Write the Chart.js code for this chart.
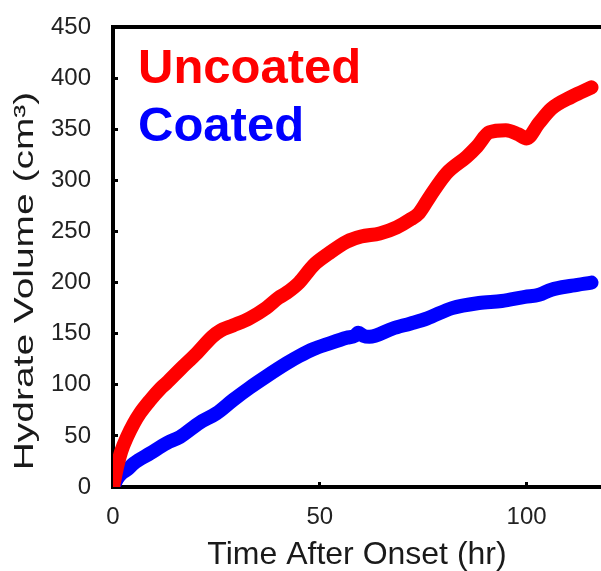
<!DOCTYPE html>
<html>
<head>
<meta charset="utf-8">
<script src="https://cdn.jsdelivr.net/npm/chart.js@4/dist/chart.umd.min.js"></script>
<style>
  html, body { margin: 0; padding: 0; background: #fff; }
  #wrap { width: 601px; height: 571px; }
</style>
</head>
<body>
<div id="wrap"><canvas id="hydrateChart"></canvas></div>
<script>
// Values (time in hr, volume in cm3)
const uncoatedTime = [0, 0.5, 1, 2, 3.4, 5, 6.5, 9, 11.4, 13, 16.2, 20.3, 24, 26, 29, 33, 37, 40, 42, 45, 48.5, 52, 56.5, 60, 64.5, 68.6, 72, 74, 76.6, 80.7, 85.5, 88, 91, 95, 98, 100, 103, 106, 111, 115.7];
const uncoatedVolume = [0, 10, 20, 35, 49, 62, 72, 85, 96, 102, 115, 131, 147, 153, 158, 165, 175, 185, 190, 200, 217, 228, 240, 245, 248, 254, 262, 268, 284, 307, 323, 333, 347, 349, 345, 341, 356, 370, 382, 391];

const coatedTime = [0, 0.5, 1, 2, 3.4, 5, 9, 13, 16.2, 21, 25, 29, 33, 37, 42, 45, 48.5, 52, 56.5, 58.5, 59.3, 60.5, 62, 67.6, 72, 76, 82, 88.5, 94, 99.6, 103, 106, 111, 115.7];
const coatedVolume = [0, 4, 8, 13, 17, 23, 33, 43, 49, 63, 72, 85, 97, 108, 121, 128, 135, 140, 146, 148, 151, 148, 147, 155, 160, 165, 175, 180, 182, 186, 188, 193, 197, 200];

const xTickValues = [0, 50, 100];
const yTickValues = [0, 50, 100, 150, 200, 250, 300, 350, 400, 450];

const FONT = "'Liberation Sans', Arial, sans-serif";

// turn two arrays into {x, y} points
function toPoints(xs, ys) {
    return xs.map((x, i) => ({ x: x, y: ys[i] }));
}

// top border of the plot box, the stretched y title and the coloured labels
const decorations = {
    id: "decorations",
    afterDraw(chart) {
        const ctx = chart.ctx;
        const area = chart.chartArea;
        ctx.save();
        ctx.strokeStyle = "#000";
        ctx.lineWidth = 4;
        ctx.beginPath();
        ctx.moveTo(area.left - 2, area.top);
        ctx.lineTo(area.right, area.top);
        ctx.stroke();

        // y title (the original is stretched along its length)
        ctx.save();
        ctx.translate(33, (area.top + area.bottom) / 2 + 24);
        ctx.rotate(-Math.PI / 2);
        ctx.scale(1.39, 1);
        ctx.fillStyle = "#1a1a1a";
        ctx.font = "28px " + FONT;
        ctx.textAlign = "center";
        ctx.textBaseline = "alphabetic";
        ctx.fillText("Hydrate Volume (cm³)", 0, 0);
        ctx.restore();

        // dataset names in their own colours
        ctx.font = "bold 49px " + FONT;
        ctx.textAlign = "left";
        ctx.textBaseline = "alphabetic";
        chart.data.datasets.forEach((ds, i) => {
            ctx.fillStyle = ds.borderColor;
            ctx.fillText(ds.label, area.left + 25, area.top + 56 + i * 58);
        });
        ctx.restore();
    },
};

function initializeGraph() {
    const ctx = document.getElementById("hydrateChart").getContext("2d");
    return new Chart(ctx, {
        type: "line",
        data: {
            datasets: [
                {
                    label: "Uncoated",
                    data: toPoints(uncoatedTime, uncoatedVolume),
                    borderColor: "#ff0000",
                    borderWidth: 14,
                    borderCapStyle: "round",
                    borderJoinStyle: "round",
                    cubicInterpolationMode: "monotone",
                    pointRadius: 0,
                    fill: false,
                },
                {
                    label: "Coated",
                    data: toPoints(coatedTime, coatedVolume),
                    borderColor: "#0000ff",
                    borderWidth: 14,
                    borderCapStyle: "round",
                    borderJoinStyle: "round",
                    cubicInterpolationMode: "monotone",
                    pointRadius: 0,
                    fill: false,
                },
            ],
        },
        options: {
            responsive: true,
            maintainAspectRatio: false,
            animation: false,
            layout: { padding: { top: 27, right: 0, left: 0, bottom: 0 } },
            plugins: {
                legend: { display: false },
                tooltip: { enabled: false },
            },
            scales: {
                x: {
                    type: "linear",
                    min: 0,
                    max: 118,
                    afterBuildTicks: (scale) => {
                        scale.ticks = xTickValues.map((v) => ({ value: v }));
                    },
                    afterFit: (scale) => {
                        scale.height = 84;
                        scale.paddingRight = 0;
                    },
                    grid: {
                        drawOnChartArea: false,
                        drawTicks: true,
                        tickLength: -5,
                        tickWidth: 3,
                        tickColor: "#000",
                    },
                    border: { color: "#000", width: 4 },
                    ticks: {
                        color: "#222",
                        padding: 21,
                        maxRotation: 0,
                        font: { family: FONT, size: 24 },
                    },
                    title: {
                        display: true,
                        text: "Time After Onset (hr)",
                        color: "#1a1a1a",
                        padding: 0,
                        font: { family: FONT, size: 32, lineHeight: 1 },
                    },
                },
                y: {
                    min: 0,
                    max: 450,
                    afterBuildTicks: (scale) => {
                        scale.ticks = yTickValues.map((v) => ({ value: v }));
                    },
                    afterFit: (scale) => {
                        // keep the big label gap from pushing the plot box down
                        scale.width = 113;
                        scale.paddingTop = 0;
                        scale.paddingBottom = 0;
                    },
                    grid: {
                        drawOnChartArea: false,
                        drawTicks: true,
                        tickLength: -5,
                        tickWidth: 3,
                        tickColor: "#000",
                    },
                    border: { color: "#000", width: 4 },
                    ticks: {
                        color: "#222",
                        padding: 27,
                        font: { family: FONT, size: 24 },
                    },
                },
            },
        },
        plugins: [decorations],
    });
}

document.addEventListener("DOMContentLoaded", initializeGraph);
</script>
</body>
</html>
